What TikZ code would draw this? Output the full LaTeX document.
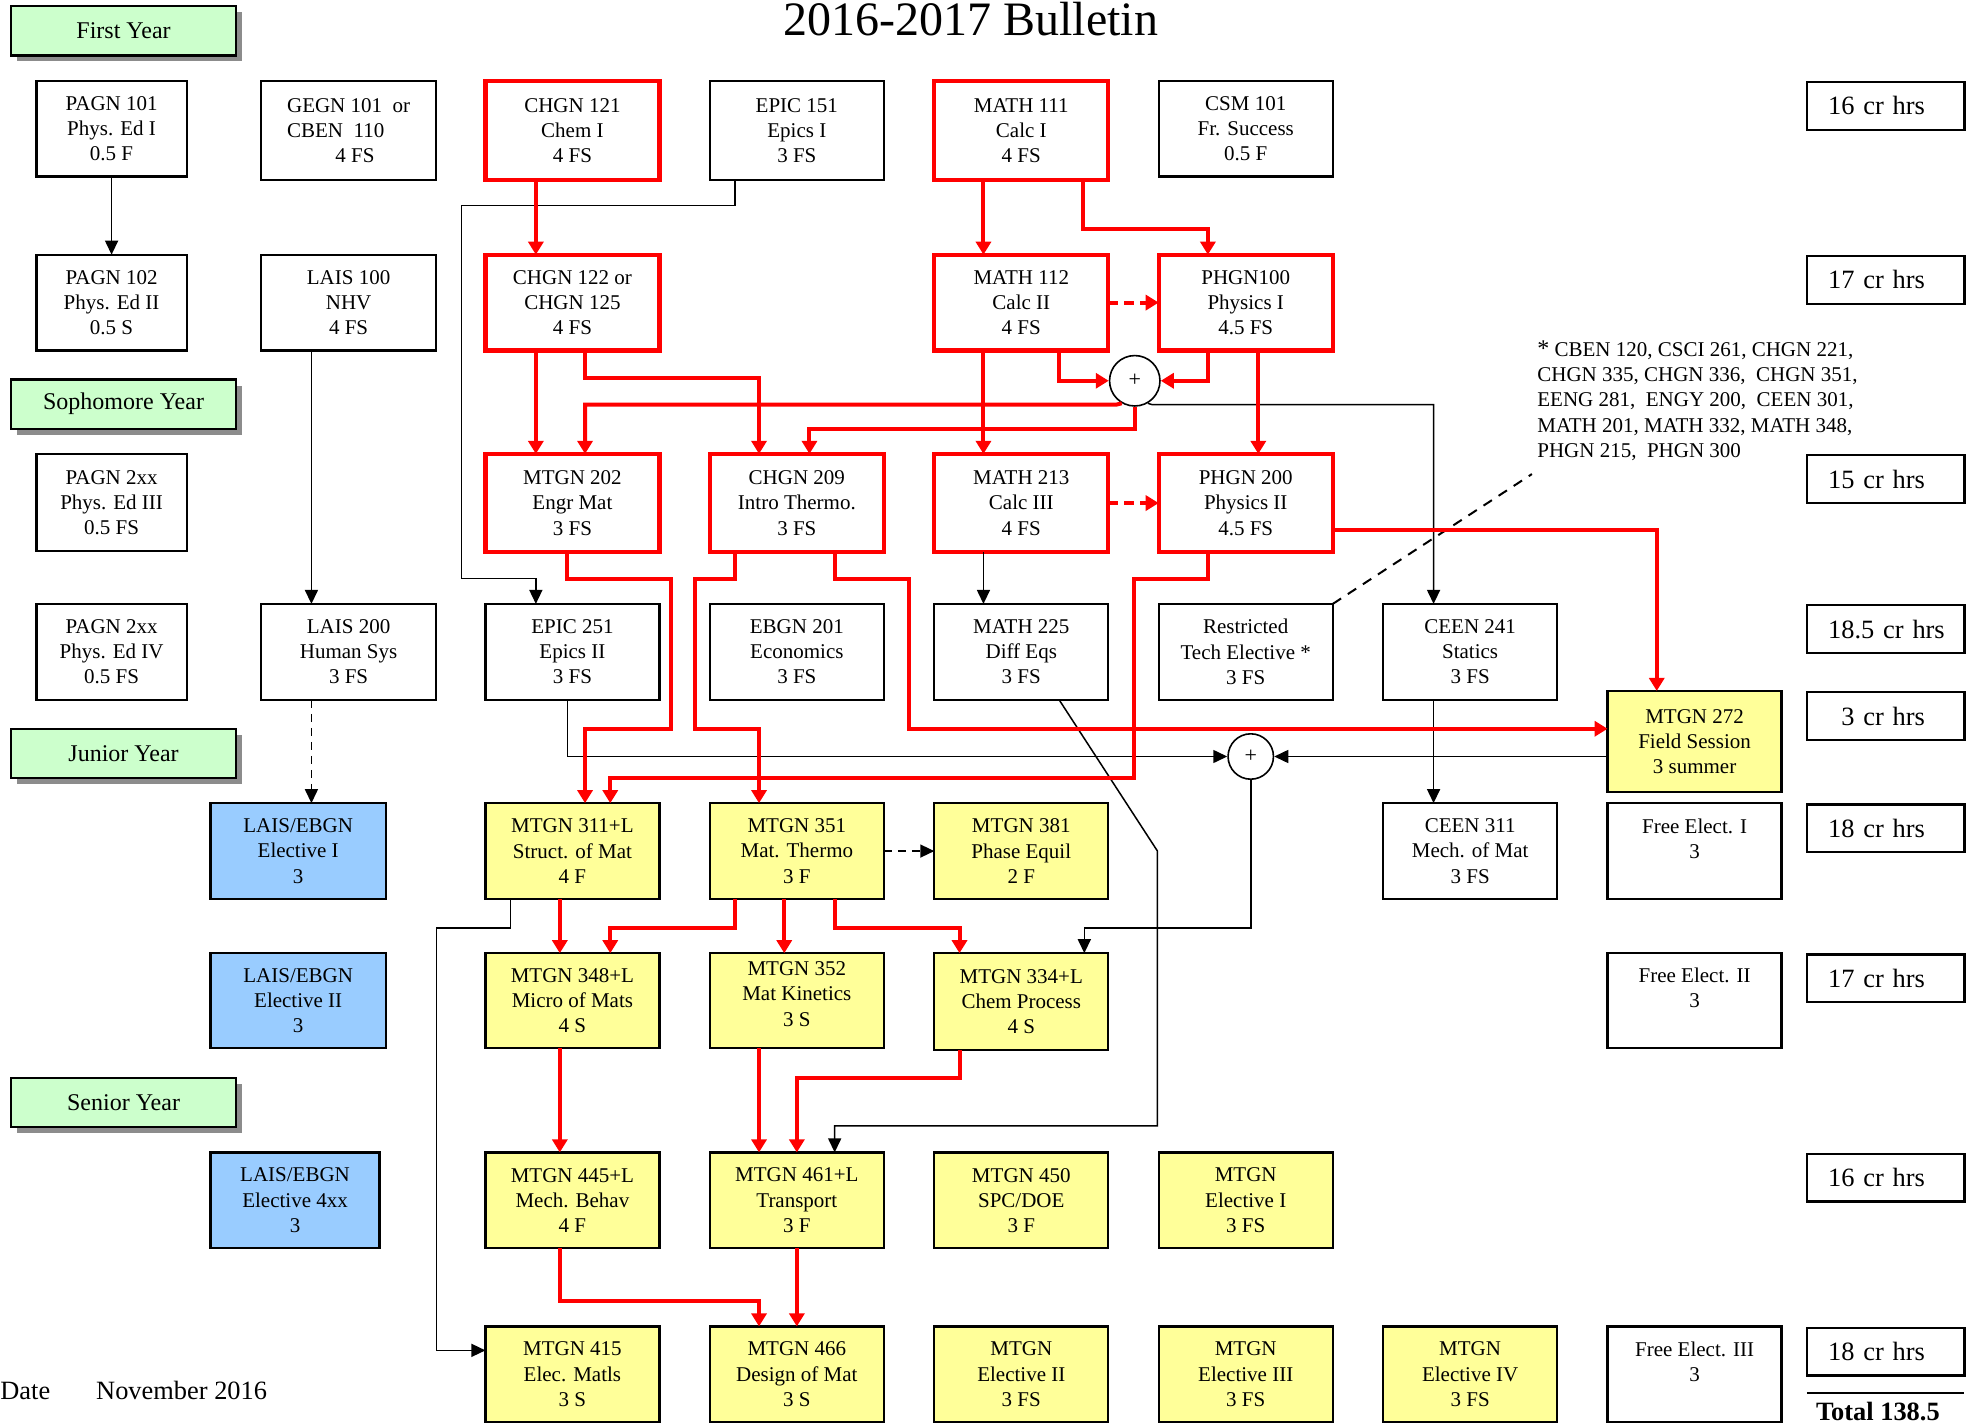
\documentclass[tikz,border=0pt]{standalone}
\usepackage{fontspec}
\setmainfont{Liberation Serif}
\usetikzlibrary{arrows.meta,calc,shadows}
\definecolor{yfill}{HTML}{FFFF99}
\definecolor{bfill}{HTML}{99CCFF}
\definecolor{gfill}{HTML}{CCFFCC}
\definecolor{rline}{HTML}{FF0000}
\newcommand\cbox[7]{\node[#1, minimum width={(#5-#3)*0.6304pt}, minimum height={(#6-#4)*0.6304pt}] (#2) at ({(#3+#5)/2},{(#4+#6)/2}) {#7};}
\begin{document}
\begin{tikzpicture}[x=0.6304pt,y=-0.6304pt,
  basebox/.style={inner sep=0pt, outer sep=0pt, align=center, font=\fontsize{10.5}{12.6}\selectfont},
  wbox/.style={basebox, draw=black, line width=1.1pt, fill=white},
  rbox/.style={basebox, draw=rline, line width=2.1pt, fill=white},
  ybox/.style={wbox, fill=yfill},
  bbox/.style={wbox, fill=bfill},
  yearbox/.style={basebox, draw=black, line width=1.1pt, fill=gfill, font=\fontsize{12}{14}\selectfont,
     drop shadow={shadow xshift=3pt,shadow yshift=-3pt,fill=black!45,opacity=1}},
  crbox/.style={draw=black, line width=1.1pt, outer sep=0pt, inner ysep=0pt, inner xsep=0pt,
     text width=78.8pt, align=left, font=\fontsize{13.2}{15}\selectfont,
     execute at begin node={\hspace*{10.7pt}}},
  plus/.style={circle, draw=black, line width=0.8pt, fill=white, inner sep=0pt, font=\fontsize{11}{12}\selectfont},
  blk/.style={draw=black, line width=0.75pt, -{Triangle[length=7pt,width=6.5pt]}},
  rarr/.style={draw=rline, line width=2pt, -{Triangle[length=6.5pt,width=7.5pt]}},
  rdash/.style={rarr, dash pattern=on 5pt off 3pt},
]
\useasboundingbox (0,0) rectangle (1568,1129);

% title and labels
\node[font=\fontsize{24}{28}\selectfont, anchor=base, inner sep=0pt] (title) at (770,28) {2016-2017 Bulletin};
\cbox{yearbox}{fy}{9}{5}{187}{44}{First Year}
\cbox{yearbox}{sy}{9}{301}{187}{340}{Sophomore Year}
\cbox{yearbox}{jy}{9}{578}{187}{617}{Junior Year}
\cbox{yearbox}{sny}{9}{855}{187}{894}{Senior Year}

% row 1
\cbox{wbox}{pagn101}{29}{64}{148}{140}{PAGN 101\\Phys. Ed I\\0.5 F}
\cbox{wbox,align=left}{gegn}{207}{64}{346}{143}{GEGN 101~~or\\CBEN~~110\\\hspace*{2.3em}4 FS}
\cbox{rbox}{chgn121}{385}{64}{523}{143}{CHGN 121\\Chem I\\4 FS}
\cbox{wbox}{epic151}{563}{64}{701}{143}{EPIC 151\\Epics I\\3 FS}
\cbox{rbox}{math111}{741}{64}{879}{143}{MATH 111\\Calc I\\4 FS}
\cbox{wbox}{csm101}{919}{64}{1057}{140}{CSM 101\\Fr. Success\\0.5 F}
% row 2
\cbox{wbox}{pagn102}{29}{202}{148}{278}{PAGN 102\\Phys. Ed II\\0.5 S}
\cbox{wbox}{lais100}{207}{202}{346}{278}{LAIS 100\\NHV\\4 FS}
\cbox{rbox}{chgn122}{385}{202}{523}{278}{CHGN 122 or\\CHGN 125\\4 FS}
\cbox{rbox}{math112}{741}{202}{879}{278}{MATH 112\\Calc II\\4 FS}
\cbox{rbox}{phgn100}{919}{202}{1057}{278}{PHGN100\\Physics I\\4.5 FS}
% row 3
\cbox{wbox}{pagn2a}{29}{360}{148}{437}{PAGN 2xx\\Phys. Ed III\\0.5 FS}
\cbox{rbox}{mtgn202}{385}{360}{523}{438}{MTGN 202\\Engr Mat\\3 FS}
\cbox{rbox}{chgn209}{563}{360}{701}{438}{CHGN 209\\Intro Thermo.\\3 FS}
\cbox{rbox}{math213}{741}{360}{879}{438}{MATH 213\\Calc III\\4 FS}
\cbox{rbox}{phgn200}{919}{360}{1057}{438}{PHGN 200\\Physics II\\4.5 FS}
% row 4
\cbox{wbox}{pagn2b}{29}{479}{148}{555}{PAGN 2xx\\Phys. Ed IV\\0.5 FS}
\cbox{wbox}{lais200}{207}{479}{346}{555}{LAIS 200\\Human Sys\\3 FS}
\cbox{wbox}{epic251}{385}{479}{523}{555}{EPIC 251\\Epics II\\3 FS}
\cbox{wbox}{ebgn201}{563}{479}{701}{555}{EBGN 201\\Economics\\3 FS}
\cbox{wbox}{math225}{741}{479}{879}{555}{MATH 225\\Diff Eqs\\3 FS}
\cbox{wbox}{rte}{919}{479}{1057}{555}{Restricted\\Tech Elective *\\3 FS}
\cbox{wbox}{ceen241}{1097}{479}{1235}{555}{CEEN 241\\Statics\\3 FS}
\cbox{ybox}{mtgn272}{1275}{548}{1413}{628}{MTGN 272\\Field Session\\3 summer}
% row 5
\cbox{bbox}{laisI}{167}{637}{306}{713}{LAIS/EBGN\\Elective I\\3}
\cbox{ybox}{mtgn311}{385}{637}{523}{713}{MTGN 311+L\\Struct. of Mat\\4 F}
\cbox{ybox}{mtgn351}{563}{637}{701}{713}{MTGN 351\\Mat. Thermo\\3 F}
\cbox{ybox}{mtgn381}{741}{637}{879}{713}{MTGN 381\\Phase Equil\\2 F}
\cbox{wbox}{ceen311}{1097}{637}{1235}{713}{CEEN 311\\Mech. of Mat\\3 FS}
\cbox{wbox}{fe1}{1275}{637}{1413}{713}{Free Elect. I\\3\\\mbox{}}
% row 6
\cbox{bbox}{laisII}{167}{756}{306}{831}{LAIS/EBGN\\Elective II\\3}
\cbox{ybox}{mtgn348}{385}{756}{523}{831}{MTGN 348+L\\Micro of Mats\\4 S}
\cbox{ybox}{mtgn352}{563}{756}{701}{831}{MTGN 352\\Mat Kinetics\\3 S\\[-6pt]\mbox{}}
\cbox{ybox}{mtgn334}{741}{756}{879}{833}{MTGN 334+L\\Chem Process\\4 S}
\cbox{wbox}{fe2}{1275}{756}{1413}{831}{Free Elect. II\\3\\\mbox{}}
% row 7
\cbox{bbox}{lais4xx}{167}{914}{301}{990}{LAIS/EBGN\\Elective 4xx\\3}
\cbox{ybox}{mtgn445}{385}{914}{523}{990}{MTGN 445+L\\Mech. Behav\\4 F}
\cbox{ybox}{mtgn461}{563}{914}{701}{990}{MTGN 461+L\\Transport\\3 F}
\cbox{ybox}{mtgn450}{741}{914}{879}{990}{MTGN 450\\SPC/DOE\\3 F}
\cbox{ybox}{mtgnE1}{919}{914}{1057}{990}{MTGN\\Elective I\\3 FS}
% row 8
\cbox{ybox}{mtgn415}{385}{1052}{523}{1128}{MTGN 415\\Elec. Matls\\3 S}
\cbox{ybox}{mtgn466}{563}{1052}{701}{1128}{MTGN 466\\Design of Mat\\3 S}
\cbox{ybox}{mtgnE2}{741}{1052}{879}{1128}{MTGN\\Elective II\\3 FS}
\cbox{ybox}{mtgnE3}{919}{1052}{1057}{1128}{MTGN\\Elective III\\3 FS}
\cbox{ybox}{mtgnE4}{1097}{1052}{1235}{1128}{MTGN\\Elective IV\\3 FS}
\cbox{wbox}{fe3}{1275}{1052}{1413}{1128}{Free Elect. III\\3\\\mbox{}}

% credit hour boxes
\cbox{crbox}{cr1}{1433}{65}{1558}{103}{16 cr hrs}
\cbox{crbox}{cr2}{1433}{203}{1558}{241}{17 cr hrs}
\cbox{crbox}{cr3}{1433}{361}{1558}{399}{15 cr hrs}
\cbox{crbox}{cr4}{1433}{480}{1558}{518}{18.5 cr hrs}
\cbox{crbox}{cr5}{1433}{549}{1558}{587}{\hspace*{0.5em}3 cr hrs}
\cbox{crbox}{cr6}{1433}{638}{1558}{676}{18 cr hrs}
\cbox{crbox}{cr7}{1433}{757}{1558}{795}{17 cr hrs}
\cbox{crbox}{cr8}{1433}{915}{1558}{953}{16 cr hrs}
\cbox{crbox}{cr9}{1433}{1053}{1558}{1091}{18 cr hrs}
\draw[line width=1.1pt] (1433,1105) -- (1558,1105);
\node[anchor=base west, inner sep=0pt, font=\fontsize{13.2}{15}\selectfont\bfseries] (total) at (1440,1127) {Total 138.5};

% date
\node[anchor=base west, inner sep=0pt, font=\fontsize{13.2}{15}\selectfont] (date) at (0,1110) {Date};
\node[anchor=base west, inner sep=0pt, font=\fontsize{13.2}{15}\selectfont] (nov) at (76,1110) {November 2016};

% footnote
\node[anchor=north west, inner sep=0pt, align=left, font=\fontsize{10.5}{12.6}\selectfont] (fn) at (1219,270)
 {{\large *} CBEN 120, CSCI 261, CHGN 221,\\CHGN 335, CHGN 336,~ CHGN 351,\\EENG 281,~ ENGY 200,~ CEEN 301,\\MATH 201, MATH 332, MATH 348,\\PHGN 215,~ PHGN 300};
\coordinate (fnpt) at (1215,376);

% plus circles
\node[plus, minimum size=40*0.6304pt] (pc1) at (900,302) {+};
\node[plus, minimum size=36*0.6304pt] (pc2) at (992,600) {+};

% black connectors
\draw[blk] (pagn101.south) -- (pagn102.north);
\draw[blk] ($(lais100.south west)+(40,0)$) -- ($(lais200.north west)+(40,0)$);
\draw[blk, dash pattern=on 4pt off 3pt] ($(lais200.south west)+(40,0)$) -- ($(laisI.north west)+(80,0)$);
\draw[blk] ($(epic151.south west)+(20,0)$) -- ++(0,20) -- (366,163) -- (366,459) -| ($(epic251.north west)+(40,0)$);
\draw[blk] ($(math213.south west)+(39,0)$) -- ($(math225.north west)+(39,0)$);
\draw[blk] (pc1.-60) -- (914,321) -| ($(ceen241.north west)+(40,0)$);
\draw[blk] ($(ceen241.south west)+(40,0)$) -- ($(ceen311.north west)+(40,0)$);
\draw[blk] ($(epic251.south west)+(65,0)$) |- (pc2.west);
\draw[blk] (mtgn272.west |- pc2.east) -- (pc2.east);
\draw[blk] (pc2.south) |- ($(mtgn334.north west)+(119,-20)$) -- ($(mtgn334.north west)+(119,0)$);
\draw[blk] ($(math225.south west)+(99,0)$) -- (918,675) -- (918,893) -| ($(mtgn461.north west)+(99,0)$);
\draw[blk] ($(mtgn311.south west)+(20,0)$) -- ++(0,23) -- (346,736) |- ($(mtgn415.north west)+(0,19)$);
\draw[blk, dash pattern=on 4pt off 3pt] (mtgn351.east) -- (mtgn381.west);
\draw[draw=black, line width=1pt, dash pattern=on 5pt off 4pt] (rte.north east) -- (fnpt);

% red connectors
\draw[rarr] ($(chgn121.south west)+(40,0)$) -- ($(chgn122.north west)+(40,0)$);
\draw[rarr] ($(math111.south west)+(39,0)$) -- ($(math112.north west)+(39,0)$);
\draw[rarr] ($(math111.south west)+(118,0)$) -- ++(0,39) -| ($(phgn100.north west)+(39,0)$);
\draw[rdash] (math112.east) -- (phgn100.west);
\draw[rarr] ($(math112.south west)+(99,0)$) |- (pc1.west);
\draw[rarr] ($(phgn100.south west)+(39,0)$) |- (pc1.east);
\draw[rarr] ($(phgn100.south west)+(79,0)$) -- ($(phgn200.north west)+(79,0)$);
\draw[rarr] ($(math112.south west)+(39,0)$) -- ($(math213.north west)+(39,0)$);
\draw[rarr] ($(chgn122.south west)+(40,0)$) -- ($(mtgn202.north west)+(40,0)$);
\draw[rarr] ($(chgn122.south west)+(79,0)$) -- ++(0,22) -| ($(chgn209.north west)+(39,0)$);
\draw[rarr] (pc1.-120) -- (885,321) -| ($(mtgn202.north west)+(79,0)$);
\draw[rarr] (pc1.south) -- ++(0,18) -| ($(chgn209.north west)+(79,0)$);
\draw[rdash] (math213.east) -- (phgn200.west);
\draw[rarr] ($(phgn200.north east)+(0,60)$) -| ($(mtgn272.north west)+(39,0)$);
\draw[rarr] ($(mtgn202.south west)+(65,0)$) -- ++(0,21) -- (532,459) -- (532,578) -| ($(mtgn311.north west)+(79,0)$);
\draw[rarr] ($(chgn209.south west)+(20,0)$) -- ++(0,21) -- (551,459) -- (551,578) -| ($(mtgn351.north west)+(39,0)$);
\draw[rarr] ($(chgn209.south west)+(99,0)$) -- ++(0,21) -- (721,459) |- ($(mtgn272.north west)+(0,30)$);
\draw[rarr] ($(phgn200.south west)+(39,0)$) -- ++(0,21) -- (899,459) -- (899,617) -| ($(mtgn311.north west)+(99,0)$);
\draw[rarr] ($(mtgn311.south west)+(59,0)$) -- ($(mtgn348.north west)+(59,0)$);
\draw[rarr] ($(mtgn351.south west)+(20,0)$) -- ++(0,23) -| ($(mtgn348.north west)+(99,0)$);
\draw[rarr] ($(mtgn351.south west)+(59,0)$) -- ($(mtgn352.north west)+(59,0)$);
\draw[rarr] ($(mtgn351.south west)+(99,0)$) -- ++(0,23) -| ($(mtgn334.north west)+(20,0)$);
\draw[rarr] ($(mtgn348.south west)+(59,0)$) -- ($(mtgn445.north west)+(59,0)$);
\draw[rarr] ($(mtgn352.south west)+(39,0)$) -- ($(mtgn461.north west)+(39,0)$);
\draw[rarr] ($(mtgn334.south west)+(20,0)$) -- ++(0,22) -| ($(mtgn461.north west)+(69,0)$);
\draw[rarr] ($(mtgn445.south west)+(59,0)$) -- ++(0,42) -| ($(mtgn466.north west)+(39,0)$);
\draw[rarr] ($(mtgn461.south west)+(69,0)$) -- ($(mtgn466.north west)+(69,0)$);
\end{tikzpicture}
\end{document}
